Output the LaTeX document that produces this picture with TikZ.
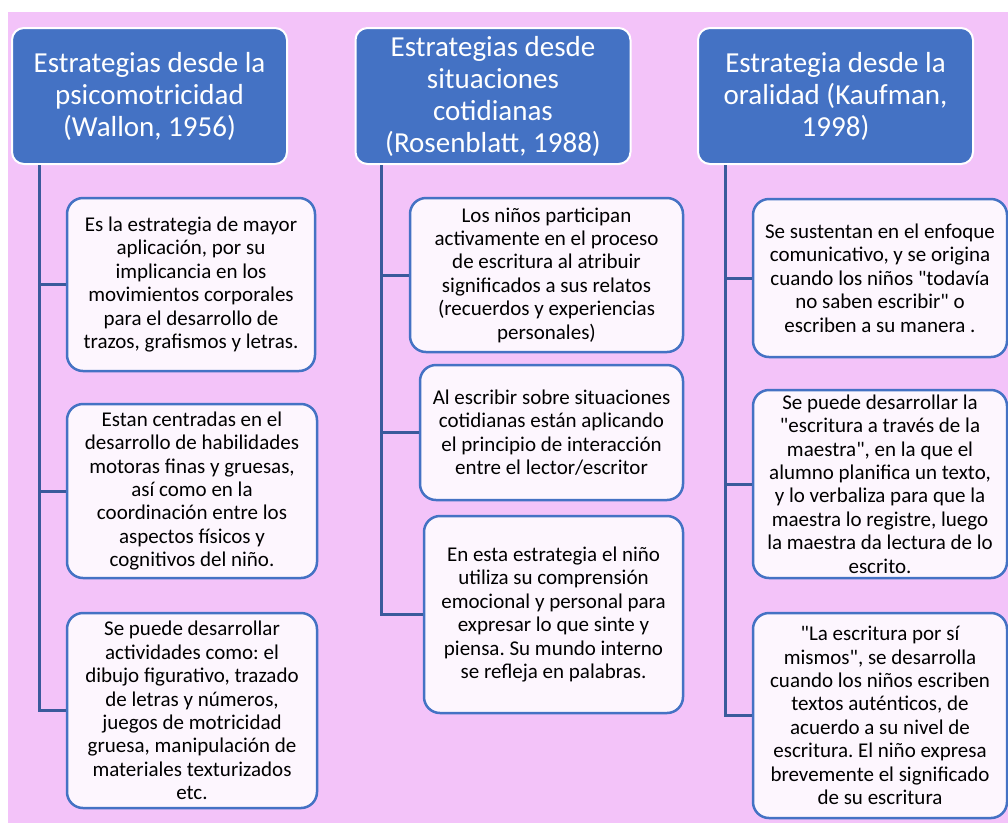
\documentclass[tikz,border=0pt]{standalone}
\usepackage{fontspec}
\setmainfont{Carlito}[Ligatures=TeXOff]
\frenchspacing
\definecolor{bgpink}{HTML}{F3C3F9}
\definecolor{headblue}{HTML}{4472C4}
\definecolor{linkblue}{HTML}{3A5A9C}
\definecolor{cardfill}{HTML}{FDF6FE}
\begin{document}
\begin{tikzpicture}[
				x=1pt, y=-1pt,
				header/.style={rectangle, rounded corners=12pt, draw=white, line width=2pt, fill=headblue, text=white, align=center, minimum width=275pt, minimum height=136pt, inner sep=1pt, font=\fontsize{29}{32}\selectfont},
				info/.style={rectangle, rounded corners=16pt, draw=headblue, line width=2.5pt, fill=cardfill, align=center, inner sep=1pt, font=\fontsize{21}{23.4}\selectfont},
				trunk/.style={draw=linkblue, line width=3pt}
				]
			\useasboundingbox (0,0) rectangle (1008,823);
			\fill [bgpink] (8,12) rectangle (1008,823);
			% encabezados
			\node [header] (h1) at (149.5,96) {Estrategias desde la\\psicomotricidad\\(Wallon, 1956)};
			\node [header] (h2) at (493,96) {Estrategias desde\\situaciones\\cotidianas\\(Rosenblatt, 1988)};
			\node [header] (h3) at (835.5,96) {Estrategia desde la\\oralidad (Kaufman,\\1998)};
			% psicomotricidad
			\node [info, minimum width=248pt, minimum height=173pt] (p1) at (191,284.5) {Es la estrategia de mayor\\aplicación, por su\\implicancia en los\\movimientos corporales\\para el desarrollo de\\trazos, grafismos y letras.};
			\node [info, minimum width=250pt, minimum height=174pt] (p2) at (192,491) {Estan centradas en el\\desarrollo de habilidades\\motoras finas y gruesas,\\así como en la\\coordinación entre los\\aspectos físicos y\\cognitivos del niño.};
			\node [info, minimum width=250pt, minimum height=195pt] (p3) at (192,710.5) {Se puede desarrollar\\actividades como: el\\dibujo figurativo, trazado\\de letras y números,\\juegos de motricidad\\gruesa, manipulación de\\materiales texturizados\\etc.};
			% situaciones cotidianas
			\node [info, minimum width=273pt, minimum height=154pt] (s1) at (546.5,275) {Los niños participan\\activamente en el proceso\\de escritura al atribuir\\significados a sus relatos\\(recuerdos y experiencias\\personales)};
			\node [info, minimum width=263pt, minimum height=135pt] (s2) at (551.5,432.5) {Al escribir sobre situaciones\\cotidianas están aplicando\\el principio de interacción\\entre el lector/escritor};
			\node [info, minimum width=259pt, minimum height=197pt] (s3) at (553.5,614.5) {En esta estrategia el niño\\utiliza su comprensión\\emocional y personal para\\expresar lo que sinte y\\piensa. Su mundo interno\\se refleja en palabras.};
			% oralidad
			\node [info, minimum width=254pt, minimum height=158pt] (o1) at (880,278) {Se sustentan en el enfoque\\comunicativo, y se origina\\cuando los niños "todavía\\no saben escribir" o\\escriben a su manera .};
			\node [info, minimum width=254pt, minimum height=188pt] (o2) at (880,484) {Se puede desarrollar la\\"escritura a través de la\\maestra", en la que el\\alumno planifica un texto,\\y lo verbaliza para que la\\maestra lo registre, luego\\la maestra da lectura de lo\\escrito.};
			\node [info, minimum width=254pt, minimum height=205pt] (o3) at (880,715.5) {"La escritura por sí\\mismos", se desarrolla\\cuando los niños escriben\\textos auténticos, de\\acuerdo a su nivel de\\escritura. El niño expresa\\brevemente el significado\\de su escritura};
			% conectores
			\foreach \b in {p1,p2,p3}
				\draw [trunk] ([xshift=28pt]h1.south west) |- (\b.west);
			\foreach \b in {s1,s2,s3}
				\draw [trunk] ([xshift=27pt]h2.south west) |- (\b.west);
			\foreach \b in {o1,o2,o3}
				\draw [trunk] ([xshift=28pt]h3.south west) |- (\b.west);
			\end{tikzpicture}
\end{document}
